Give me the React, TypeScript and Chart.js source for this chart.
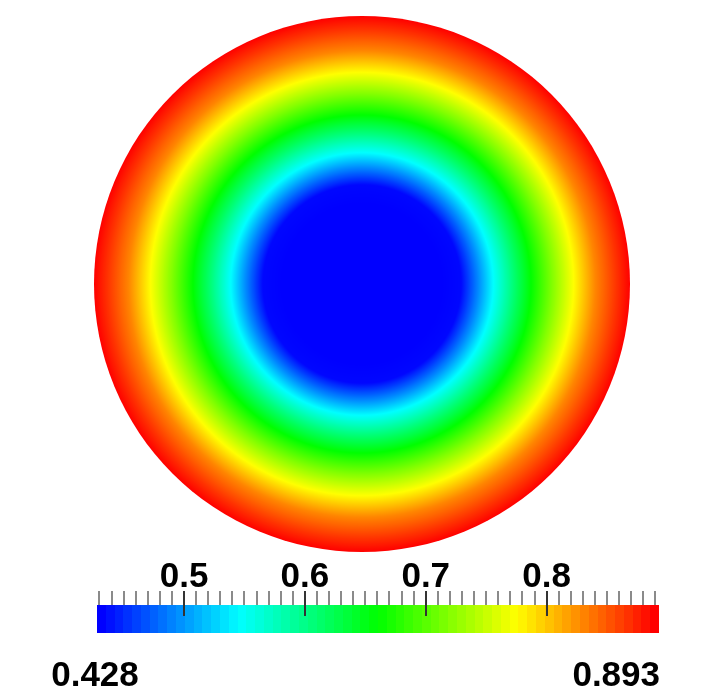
import React, { useEffect, useRef } from "react";
import { Chart, registerables } from "chart.js";

Chart.register(...registerables);

// ---- data ----
const VMIN = 0.428;
const VMAX = 0.893;
// radial profile of the field (radius normalised to disk radius)
const profileRadius = [0, 0.3, 0.37, 0.43, 0.49, 0.56, 0.63, 0.71, 0.79, 0.87, 0.95, 1.0];
const profileValue = [0.428, 0.428, 0.431, 0.487, 0.544, 0.603, 0.66, 0.72, 0.777, 0.832, 0.87, 0.893];
const majorTicks = [0.5, 0.6, 0.7, 0.8];
const majorTickLabels = ["0.5", "0.6", "0.7", "0.8"];
const minorTickStep = 0.01;
const rangeLabels = ["0.428", "0.893"];
const colormapStops: number[][] = [
  [0, 0, 255],
  [0, 255, 255],
  [0, 255, 0],
  [255, 255, 0],
  [255, 0, 0],
];
const colorBandCount = 64;

const LABEL_FONT = 'bold 35px "Liberation Sans", Arial, sans-serif';

function colorFor(v: number): string {
  let t = (v - VMIN) / (VMAX - VMIN);
  t = Math.max(0, Math.min(1, t));
  const seg = t * (colormapStops.length - 1);
  const i = Math.min(colormapStops.length - 2, Math.floor(seg));
  const f = seg - i;
  const a = colormapStops[i];
  const b = colormapStops[i + 1];
  const c = a.map((x, k) => Math.round(x + (b[k] - x) * f));
  return `rgb(${c[0]},${c[1]},${c[2]})`;
}

function profileAt(s: number): number {
  if (s <= profileRadius[0]) return profileValue[0];
  for (let i = 1; i < profileRadius.length; i++) {
    if (s <= profileRadius[i]) {
      const f = (s - profileRadius[i - 1]) / (profileRadius[i] - profileRadius[i - 1]);
      return profileValue[i - 1] + f * (profileValue[i] - profileValue[i - 1]);
    }
  }
  return profileValue[profileValue.length - 1];
}

function diskRadiusPx(chart: any): number {
  const xs = chart.scales.x;
  if (!xs) return 0;
  return Math.abs(xs.getPixelForValue(1) - xs.getPixelForValue(0));
}

function diskFill(c: any): any {
  const chart = c.chart;
  const xs = chart.scales.x;
  const ys = chart.scales.y;
  if (!chart.chartArea || !xs || !ys) return "blue";
  const cx = xs.getPixelForValue(0);
  const cy = ys.getPixelForValue(0);
  const r = diskRadiusPx(chart);
  if (!(r > 0)) return "blue";
  const g = chart.ctx.createRadialGradient(cx, cy, 0, cx, cy, r);
  const samples = 300;
  for (let i = 0; i <= samples; i++) {
    const s = i / samples;
    g.addColorStop(s, colorFor(profileAt(s)));
  }
  return g;
}

function bandFill(c: any): any {
  const chart = c.chart;
  const area = chart.chartArea;
  if (!area) return "blue";
  const xs = chart.scales.x;
  const left = xs.getPixelForValue(VMIN);
  const right = xs.getPixelForValue(VMAX);
  const g = chart.ctx.createLinearGradient(left, 0, right, 0);
  for (let i = 0; i < colorBandCount; i++) {
    const col = colorFor(VMIN + (i / (colorBandCount - 1)) * (VMAX - VMIN));
    g.addColorStop(i / colorBandCount, col);
    g.addColorStop((i + 1) / colorBandCount, col);
  }
  return g;
}

const colorbarAxisPlugin = {
  id: "colorbarAxis",
  afterDraw(chart: any) {
    const ctx = chart.ctx;
    const xs = chart.scales.x;
    const top = chart.chartArea.top;
    ctx.save();
    ctx.lineWidth = 2;
    const k0 = Math.ceil(VMIN / minorTickStep - 1e-6);
    for (let k = k0; k * minorTickStep <= VMAX + 1e-9; k++) {
      const v = k * minorTickStep;
      const isMajor = majorTicks.some((m) => Math.abs(m - v) < 1e-6);
      const px = Math.round(xs.getPixelForValue(v));
      ctx.strokeStyle = isMajor ? "#333333" : "#8a8a8a";
      ctx.beginPath();
      ctx.moveTo(px, top - 14);
      ctx.lineTo(px, isMajor ? top + 11 : top);
      ctx.stroke();
    }
    ctx.fillStyle = "#000";
    ctx.font = LABEL_FONT;
    ctx.textBaseline = "alphabetic";
    ctx.textAlign = "center";
    majorTicks.forEach((v, i) => {
      ctx.fillText(majorTickLabels[i], xs.getPixelForValue(v), top - 18);
    });
    const bottomBase = chart.chartArea.bottom + 53;
    ctx.textAlign = "center";
    ctx.fillText(rangeLabels[0], xs.getPixelForValue(VMIN) - 2, bottomBase);
    ctx.textAlign = "right";
    ctx.fillText(rangeLabels[1], xs.getPixelForValue(VMAX) + 1, bottomBase);
    ctx.restore();
  },
};

export default function App() {
  const diskRef = useRef<HTMLCanvasElement | null>(null);
  const barRef = useRef<HTMLCanvasElement | null>(null);

  useEffect(() => {
    const diskChart = new Chart(diskRef.current as HTMLCanvasElement, {
      type: "scatter",
      data: {
        datasets: [
          {
            data: [{ x: 0, y: 0 }],
            clip: false as any,
            pointRadius: (c: any) => diskRadiusPx(c.chart),
            pointHoverRadius: (c: any) => diskRadiusPx(c.chart),
            pointBackgroundColor: diskFill,
            pointHoverBackgroundColor: diskFill,
            backgroundColor: diskFill,
            pointBorderWidth: 0,
            borderWidth: 0,
          } as any,
        ],
      },
      options: {
        responsive: false,
        animation: false,
        events: [],
        layout: { padding: { left: 94, right: 95, top: 16, bottom: 8 } },
        plugins: { legend: { display: false }, tooltip: { enabled: false } },
        scales: {
          x: { type: "linear", min: -1, max: 1, display: false },
          y: { type: "linear", min: -1, max: 1, display: false },
        },
      },
    });

    const barChart = new Chart(barRef.current as HTMLCanvasElement, {
      type: "bar",
      data: {
        labels: ["colorbar"],
        datasets: [
          {
            data: [[VMIN, VMAX]] as any,
            backgroundColor: bandFill,
            borderWidth: 0,
            barPercentage: 1,
            categoryPercentage: 1,
          } as any,
        ],
      },
      options: {
        indexAxis: "y",
        responsive: false,
        animation: false,
        events: [],
        layout: { padding: { left: 97, right: 66, top: 45, bottom: 62 } },
        plugins: { legend: { display: false }, tooltip: { enabled: false } },
        scales: {
          x: { type: "linear", min: VMIN, max: VMAX, display: false },
          y: { display: false },
        },
      },
      plugins: [colorbarAxisPlugin],
    });

    return () => {
      diskChart.destroy();
      barChart.destroy();
    };
  }, []);

  return (
    <div
      style={{
        position: "fixed",
        left: 0,
        top: 0,
        width: 725,
        height: 695,
        background: "#ffffff",
      }}
    >
      <canvas
        ref={diskRef}
        width={725}
        height={560}
        style={{ position: "absolute", left: 0, top: 0, width: 725, height: 560, display: "block" }}
      />
      <canvas
        ref={barRef}
        width={725}
        height={135}
        style={{ position: "absolute", left: 0, top: 560, width: 725, height: 135, display: "block" }}
      />
    </div>
  );
}
